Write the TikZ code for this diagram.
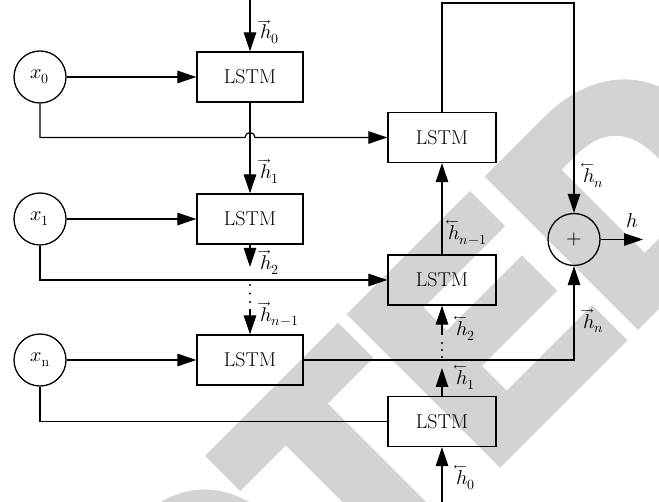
\documentclass[tikz,border=0pt]{standalone}
\usepackage{fontspec}
\usepackage{unicode-math}
\setmathfont{Latin Modern Math}
\usetikzlibrary{arrows.meta,calc}
\newfontfamily\wmfont{Liberation Sans Bold}[FakeBold=6]
\definecolor{wmgray}{RGB}{211,211,211}
\tikzset{
  txt/.style={font=\fontsize{20}{22}\selectfont},
  line/.style={line width=1.2pt},
  arr/.style={line width=1.2pt,-{Triangle[length=19pt,width=12.5pt]}},
  cell/.style={draw,txt,line width=1.3pt,minimum width=106pt,minimum height=50pt,inner sep=0pt},
  io/.style={draw,txt,circle,line width=1.3pt,minimum size=52pt,inner sep=0pt},
  lab/.style={txt,anchor=west,inner sep=0pt},
  wm/.style={text=wmgray,rotate=45,anchor=base west,inner sep=0pt,font=\wmfont\fontsize{290}{290}\selectfont},
}
\begin{document}
\begin{tikzpicture}[x=1pt,y=1pt]
\useasboundingbox (0,0) rectangle (659,-502);

% watermark lettering behind the diagram
\begin{scope}
\clip (0,0) rectangle (659,-502);
\node[wm] (wmC) at (203.4,-752.1) {C};
\node[wm] (wmT) at (356.0,-599.4) {T};
\node[wm] (wmE) at (486.2,-469.2) {E};
\node[wm] (wmD) at (624.1,-331.4) {D};
\end{scope}

% inputs
\node[io] (x0) at (40,-77) {$x_0$};
\node[io] (x1) at (40,-219) {$x_1$};
\node[io] (xn) at (40,-360) {$x_{\mathrm{n}}$};

% forward cells
\node[cell] (f0) at (250,-77) {LSTM};
\node[cell] (f1) at (250,-219) {LSTM};
\node[cell] (f2) at (250,-360) {LSTM};

% backward cells
\node[cell,minimum width=108pt] (b2) at (442,-137.5) {LSTM};
\node[cell,minimum width=108pt] (b1) at (442,-280) {LSTM};
\node[cell,minimum width=108pt] (b0) at (442,-421.5) {LSTM};

% sum
\node[io] (plus) at (574,-239.5) {$+$};

% helper points
\coordinate (ftop) at (250,0);
\coordinate (fmid) at (250,-267);
\coordinate (fres) at (250,-309);
\coordinate (bbot) at (442,-502);
\coordinate (bmid) at (442,-368);
\coordinate (bres) at (442,-335);
\coordinate (fb) at (574,-3);
\coordinate (out) at (643,-239.5);

% inputs into cells
\draw[arr] (x0) -- (f0);
\draw[arr] (x1) -- (f1);
\draw[arr] (xn) -- (f2);
\draw[arr] (x0.south) -- (x0.south |- b2.west)
  -- ($(f0.south |- b2.west)+(-5,0)$) arc[start angle=180,end angle=0,radius=5]
  -- (b2.west);
\draw[arr] (x1.south) |- (b1.west);
\draw[line] (xn.south) |- (b0.west);

% forward chain
\draw[arr] (ftop) -- (f0.north);
\draw[arr] (f0.south) -- (f1.north);
\draw[arr] (f1.south) -- (fmid);
\foreach \yy in {285,293.5,302} \fill (250,-\yy) circle (1.1);
\draw[arr] (fres) -- (f2.north);

% backward chain
\draw[arr] (bbot) -- (b0.south);
\draw[arr] (b0.north) -- (bmid);
\foreach \yy in {343,350,357} \fill (442,-\yy) circle (1.1);
\draw[arr] (bres) -- (b1.south);
\draw[arr] (b1.north) -- (b2.south);

% merge
\draw[arr] (b2.north) |- (fb) -- (plus.north);
\draw[arr] (f2.east) -| (plus.south);
\draw[arr] (plus.east) -- (out);

% labels
\node[lab] (lh0) at (260,-32) {$\overrightarrow{h}_0$};
\node[lab] (lh1) at (260,-171) {$\overrightarrow{h}_1$};
\node[lab] (lh2) at (260,-262) {$\overrightarrow{h}_2$};
\node[lab] (lhm) at (260,-314) {$\overrightarrow{h}_{n-1}$};
\node[lab] (rhn) at (583,-176) {$\overleftarrow{h}_n$};
\node[lab] (rhm) at (448,-233) {$\overleftarrow{h}_{n-1}$};
\node[lab] (rh2) at (456,-329) {$\overleftarrow{h}_2$};
\node[lab] (rh1) at (456,-378) {$\overleftarrow{h}_1$};
\node[lab] (rh0) at (456,-478) {$\overleftarrow{h}_0$};
\node[lab] (fhn) at (583,-321) {$\overrightarrow{h}_n$};
\node[txt,inner sep=0pt] (hout) at (632,-221) {$h$};
\end{tikzpicture}
\end{document}
